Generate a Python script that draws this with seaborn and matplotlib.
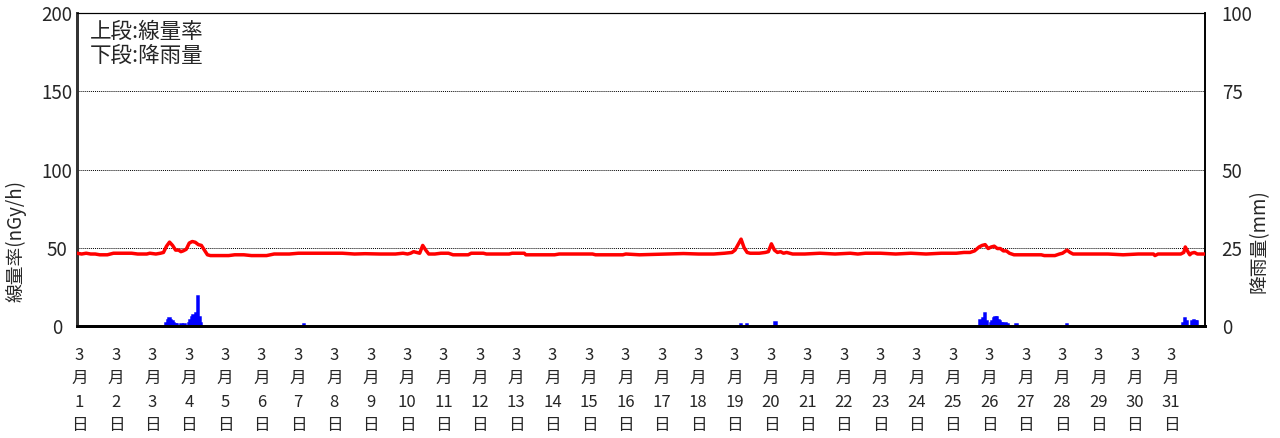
import matplotlib
matplotlib.use("Agg")
import matplotlib.pyplot as plt
import numpy as np
import pandas as pd
import seaborn as sns

# ── Data ─────────────────────────────────────────────────────────────────────
# dose rate: hours since 3/1 00:00 and value (nGy/h)
dose_hour = [0, 3, 6, 9, 12, 15, 20, 24, 30, 36, 40, 46, 48, 52, 55, 57, 59, 61,
             63, 65, 67, 68.5, 70, 72, 74, 76, 78, 80, 82, 84, 86, 88, 96, 100,
             104, 110, 115, 125, 130, 140, 146, 160, 175, 183, 190, 200, 210,
             215, 218, 220, 222, 224, 226, 228, 230, 232, 236, 240, 245, 248,
             258, 260, 268, 270, 285, 287, 295, 296, 315, 318, 340, 342, 360,
             362, 371, 388, 400, 410, 420, 427, 432, 434, 436, 438, 440, 442,
             444, 450, 454, 456, 458, 460, 462, 464, 466, 468, 470, 472, 480,
             490, 500, 510, 515, 520, 530, 540, 550, 560, 570, 580, 585, 589,
             592, 595, 597, 599, 601, 603, 605, 607, 609, 611, 613, 615, 618,
             622, 636, 638, 645, 648, 650, 653, 655, 657, 680, 690, 700, 710,
             711, 713, 728, 730, 731, 733, 734, 735, 737, 739, 744]
dose_val = [46.5, 46, 46.5, 46, 46, 45.5, 45.5, 46.5, 46.5, 46.5, 46, 46, 46.5,
            46, 46.5, 47, 51, 53.6, 51.5, 48.5, 48.5, 47.5, 48, 49, 53, 54,
            53.5, 52, 51.5, 48.5, 45.5, 45, 45, 45, 45.5, 45.5, 45, 45, 46, 46,
            46.5, 46.5, 46.5, 46, 46.2, 46, 46, 46.5, 46, 46.5, 47.5, 47, 46.5,
            51.5, 48.5, 46, 46, 46.5, 46.5, 45.5, 45.5, 46.5, 46.5, 46, 46,
            46.5, 46.5, 45.5, 45.5, 46, 46, 45.5, 45.5, 46, 45.5, 46, 46.3, 46,
            46, 46.5, 47, 48.5, 52, 55.5, 50, 47, 46.5, 46.5, 47, 47.5, 52.5,
            48.5, 47, 47.5, 46.5, 47, 46.5, 46, 46, 46.5, 46, 46.5, 46, 46.5,
            46.5, 46, 46.5, 46, 46.5, 46.5, 47, 47, 48, 50.5, 51.5, 52, 49.5,
            50.5, 51, 49.5, 49.5, 48, 48, 46.5, 45.5, 45.5, 45.5, 45, 45, 46,
            46.5, 48.5, 47, 46, 46, 45.5, 46, 46, 45, 46, 46, 47, 50.5, 47,
            45.5, 46.5, 47, 46, 46]

# rainfall: hour index of rainy hours and amount (mm)
rain_hour = [58, 59, 60, 61, 62, 63, 64, 65, 68, 70, 73, 74, 75, 76, 77, 78, 79,
             80, 81, 149, 437, 441, 460, 595, 596, 597, 598, 599, 602, 603, 604,
             605, 606, 607, 608, 609, 610, 611, 612, 613, 619, 652, 729, 730,
             731, 735, 736, 737, 738]
rain_mm = [1, 2, 2.5, 2, 1.5, 1, 0.5, 0.5, 0.5, 0.5, 1, 2, 3, 3.5, 3, 4, 9.6, 3,
           1, 0.5, 0.5, 0.5, 1.2, 2, 1.5, 2.5, 4.2, 1.5, 1, 1.5, 2.5, 3, 3, 2,
           1.5, 1, 1, 0.5, 1, 0.5, 0.5, 0.5, 1, 2.6, 1.5, 1.5, 2, 1.5, 1.5]

days = list(range(1, 32))
day_labels = [f"3\n月\n{d}\n日" for d in days]

# ── Style ────────────────────────────────────────────────────────────────────
sns.set_theme(style="white")
plt.rcParams["font.family"] = ["Noto Sans CJK JP", "DejaVu Sans"]

dose = pd.DataFrame({"day": np.array(dose_hour) / 24.0, "dose": dose_val})

fig = plt.figure(figsize=(12.8, 4.38), dpi=100)
ax = fig.add_axes([0.0602, 0.2557, 0.8812, 0.7146])
ax2 = ax.twinx()

# ── Rainfall (right axis) ────────────────────────────────────────────────────
ax2.bar(np.array(rain_hour) / 24.0 + 1 / 48, rain_mm, width=1 / 24,
        color="#0000ff", edgecolor="#0000ff", linewidth=1.8)
ax2.set_ylim(0, 100)
ax2.set_yticks([0, 25, 50, 75, 100])
ax2.tick_params(axis="y", length=0, labelsize=13.5, pad=12)
ax2.set_ylabel("降雨量(mm)", fontsize=13.5, rotation=90)
ax2.yaxis.set_label_coords(1.039, 0.27)

# ── Dose rate (left axis) ────────────────────────────────────────────────────
sns.lineplot(data=dose, x="day", y="dose", ax=ax, color="#ff0000",
             linewidth=2.5, zorder=3)
ax.set_ylim(0, 200)
ax.set_xlim(0, 31)
ax.set_yticks([0, 50, 100, 150, 200])
ax.tick_params(axis="y", length=0, labelsize=13.5, pad=14.5)
for lbl in ax.get_yticklabels():
    lbl.set_horizontalalignment("center")
ax.set_xticks(np.array(days) - 1 + 0.07)
ax.set_xticklabels(day_labels, fontsize=12, linespacing=1.5)
ax.tick_params(axis="x", length=0, pad=15)
ax.set_xlabel("")
ax.set_ylabel("線量率(nGy/h)", fontsize=13.5)
ax.yaxis.set_label_coords(-0.045, 0.27)

for v in [50, 100, 150]:
    ax.axhline(v, color="black", linestyle=(0, (1, 1)), linewidth=0.7, zorder=1)

for a in (ax, ax2):
    a.spines["top"].set_linestyle((0, (1, 1)))
    a.spines["top"].set_linewidth(0.8)
    a.spines["top"].set_color("black")
    a.spines["left"].set_color("#333333")
    a.spines["left"].set_linewidth(2)
    a.spines["bottom"].set_color("black")
    a.spines["bottom"].set_linewidth(2)
    a.spines["right"].set_color("black")
    a.spines["right"].set_linewidth(1.2)

ax.set_zorder(ax2.get_zorder() + 1)
ax.patch.set_visible(False)

ax.text(0.011, 0.975, "上段:線量率\n下段:降雨量", transform=ax.transAxes,
        fontsize=15.5, va="top", ha="left", linespacing=1.15)

fig.savefig("out.png", dpi=100)
